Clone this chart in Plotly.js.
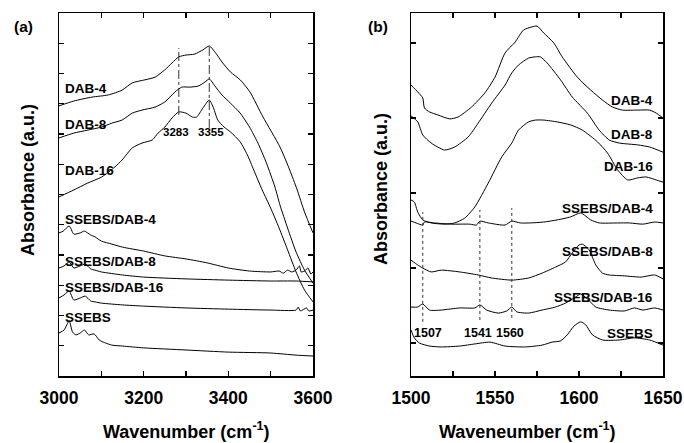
<!DOCTYPE html>
<html><head><meta charset="utf-8">
<script src="https://cdn.plot.ly/plotly-3.0.1.min.js"></script>
<style>html,body{margin:0;padding:0;background:#fff}#chart{width:684px;height:443px}</style>
</head><body><div id="chart"></div>
<script>
// ---------- Panel (a): 3000-3600 cm-1 ----------
const a_dab4_x = [3000,3035,3078,3116,3149,3173,3203,3227,3250,3267,3283,3300,3320,3340,3355,3370,3385,3405,3428,3451,3482,3522,3545,3562,3580,3600];
const a_dab4_y = [8.93,9.09,9.22,9.29,9.45,9.69,9.79,9.88,10.12,10.35,10.55,10.61,10.64,10.78,10.91,10.68,10.38,10.05,9.79,9.39,8.56,7.57,6.81,6.18,5.42,4.73];
const a_dab8_x = [3000,3035,3068,3101,3125,3149,3173,3196,3227,3250,3274,3290,3310,3330,3345,3355,3368,3385,3405,3428,3450,3470,3490,3510,3522,3540,3560,3580,3600];
const a_dab8_y = [7.87,8.03,8.13,8.23,8.36,8.46,8.69,8.79,8.89,9.06,9.39,9.55,9.55,9.59,9.72,9.82,9.59,9.29,9.02,8.69,8.23,7.70,7.04,6.25,5.65,4.89,4.10,3.50,3.07];
const a_dab16_x = [3000,3035,3068,3101,3132,3149,3173,3196,3220,3234,3250,3267,3283,3300,3315,3325,3340,3355,3365,3375,3390,3405,3428,3445,3460,3480,3500,3520,3540,3560,3580,3600];
const a_dab16_y = [5.92,6.15,6.38,6.58,6.91,7.14,7.54,7.70,7.80,8.03,8.23,8.53,8.73,8.69,8.56,8.56,8.86,9.12,8.86,8.46,8.23,8.07,7.74,7.31,6.81,6.15,5.55,4.89,4.17,3.44,2.84,2.45];
const a_s4_x = [3000,3010,3024,3035,3050,3060,3075,3085,3100,3125,3150,3200,3250,3300,3350,3400,3450,3500,3520,3530,3540,3550,3560,3568,3572,3580,3588,3595,3600];
const a_s4_y = [4.73,4.79,4.96,4.69,4.73,4.79,4.66,4.60,4.46,4.36,4.26,4.13,3.97,3.87,3.74,3.57,3.47,3.44,3.47,3.40,3.50,3.44,3.50,3.64,3.44,3.47,3.57,3.37,3.44];
const a_s8_x = [3000,3012,3024,3035,3050,3062,3075,3085,3100,3150,3200,3300,3400,3500,3560,3600];
const a_s8_y = [3.57,3.64,3.77,3.57,3.64,3.70,3.54,3.50,3.44,3.34,3.27,3.21,3.17,3.14,3.14,3.11];
const a_s16_x = [3000,3012,3024,3035,3050,3062,3075,3085,3100,3150,3200,3300,3400,3500,3560,3565,3570,3585,3590,3600];
const a_s16_y = [2.58,2.68,2.81,2.51,2.58,2.64,2.48,2.45,2.41,2.35,2.31,2.25,2.21,2.18,2.18,2.28,2.15,2.25,2.15,2.18];
const a_ssebs_x = [3000,3012,3024,3032,3040,3050,3060,3070,3083,3095,3110,3125,3150,3200,3300,3400,3500,3560,3600];
const a_ssebs_y = [1.42,1.52,1.82,1.45,1.36,1.42,1.52,1.36,1.39,1.19,1.09,1.02,0.99,0.93,0.86,0.79,0.76,0.69,0.66];

// ---------- Panel (b): 1500-1650 cm-1 ----------
const b_dab4_x = [1500,1504,1507,1508,1511,1516,1523,1528,1536,1544,1550,1556,1562,1567,1572,1575,1579,1585,1590,1599,1607,1614,1620,1626,1635,1642,1646,1650];
const b_dab4_y = [9.62,9.39,9.19,8.86,8.73,8.63,8.50,8.56,8.89,9.36,9.88,10.68,11.04,11.44,11.54,11.57,11.34,11.01,10.55,9.88,9.45,9.12,8.89,8.79,8.79,8.79,8.69,8.53];
const b_dab8_x = [1500,1504,1507,1512,1520,1526,1534,1540,1548,1556,1560,1564,1570,1574,1577,1581,1589,1596,1605,1612,1618,1624,1635,1642,1650];
const b_dab8_y = [8.60,8.40,7.97,7.70,7.47,7.57,7.90,8.36,9.02,9.62,10.02,10.28,10.51,10.55,10.55,10.35,9.79,9.22,8.69,8.13,7.80,7.70,7.64,7.57,7.40];
const b_dab16_x = [1500,1502,1504,1507,1512,1520,1526,1532,1538,1546,1554,1560,1564,1570,1574,1579,1587,1595,1602,1611,1617,1623,1629,1635,1640,1646,1650];
const b_dab16_y = [5.82,5.75,5.42,5.16,5.06,5.02,5.06,5.22,5.59,6.38,7.24,7.70,8.13,8.40,8.46,8.46,8.40,8.30,8.13,7.74,7.37,6.81,6.48,6.55,6.58,6.48,6.41];
const b_s4_x = [1500,1503,1507,1508,1514,1524,1535,1539,1541,1546,1556,1560,1565,1571,1579,1587,1595,1601,1607,1612,1623,1630,1638,1645,1650];
const b_s4_y = [5.12,5.06,4.99,5.09,5.06,5.02,5.02,4.99,5.12,5.06,4.99,5.12,5.06,5.06,5.09,5.16,5.26,5.39,5.16,5.06,5.06,5.06,5.02,5.09,5.06];
const b_s8_x = [1500,1504,1507,1512,1518,1529,1540,1548,1560,1570,1578,1586,1592,1596,1600,1602,1606,1610,1614,1618,1627,1637,1645,1650];
const b_s8_y = [3.83,3.67,3.57,3.44,3.50,3.44,3.34,3.24,3.17,3.24,3.40,3.60,3.77,4.07,4.33,4.36,4.17,3.67,3.40,3.34,3.31,3.27,3.34,3.21];
const b_s16_x = [1500,1504,1507,1511,1518,1529,1538,1541,1545,1552,1557,1560,1563,1570,1578,1586,1592,1598,1601,1605,1610,1618,1627,1633,1638,1645,1650];
const b_s16_y = [2.28,2.28,2.38,2.18,2.18,2.25,2.25,2.35,2.18,2.08,2.15,2.28,2.12,2.08,2.18,2.28,2.41,2.61,2.71,2.55,2.28,2.18,2.15,2.25,2.18,2.25,2.18];
const b_ssebs_x = [1500,1502,1505,1511,1518,1529,1538,1547,1556,1568,1578,1584,1589,1593,1597,1601,1604,1608,1614,1624,1633,1642,1650];
const b_ssebs_y = [1.52,1.26,1.09,0.99,0.96,0.99,1.06,1.12,0.99,0.96,1.02,1.12,1.16,1.36,1.65,1.79,1.69,1.36,1.19,1.19,1.26,1.19,1.02];

// labels & ticks
const seriesNames = ['DAB-4','DAB-8','DAB-16','SSEBS/DAB-4','SSEBS/DAB-8','SSEBS/DAB-16','SSEBS'];
const peaksA = [3283, 3355];
const peaksB = [1507, 1541, 1560];
const ticksA = [3000,3100,3200,3300,3400,3500,3600];
const tickTextA = ['3000','','3200','','3400','','3600'];
const ticksB = [1500,1525,1550,1575,1600,1625,1650];
const tickTextB = ['1500','','1550','','1600','','1650'];

const FONT = 'Liberation Sans, Arial, sans-serif';
const seriesA = [[a_dab4_x,a_dab4_y],[a_dab8_x,a_dab8_y],[a_dab16_x,a_dab16_y],[a_s4_x,a_s4_y],[a_s8_x,a_s8_y],[a_s16_x,a_s16_y],[a_ssebs_x,a_ssebs_y]];
const seriesB = [[b_dab4_x,b_dab4_y],[b_dab8_x,b_dab8_y],[b_dab16_x,b_dab16_y],[b_s4_x,b_s4_y],[b_s8_x,b_s8_y],[b_s16_x,b_s16_y],[b_ssebs_x,b_ssebs_y]];
const line = {color:'#000', width:1, shape:'spline', smoothing:0.6};
const traces = [];
seriesA.forEach((s,i)=>traces.push({x:s[0],y:s[1],name:seriesNames[i],mode:'lines',line:line,xaxis:'x',yaxis:'y',showlegend:false,hoverinfo:'skip'}));
seriesB.forEach((s,i)=>traces.push({x:s[0],y:s[1],name:seriesNames[i],mode:'lines',line:line,xaxis:'x2',yaxis:'y2',showlegend:false,hoverinfo:'skip'}));

// label placement (layout only)
const labelYA = [9.52,8.30,6.81,5.16,3.80,2.91,1.92];
const labelYB = [9.12,7.97,6.91,5.55,4.10,2.61,1.42];
const ann = [];
const lf = {family:FONT,size:13.5,color:'#000',weight:'bold'};
seriesNames.forEach((n,i)=>{
  ann.push({x:3009,y:labelYA[i],xref:'x',yref:'y',text:n,showarrow:false,xanchor:'left',yanchor:'middle',font:lf});
  ann.push({x:1645.5,y:labelYB[i],xref:'x2',yref:'y2',text:n,showarrow:false,xanchor:'right',yanchor:'middle',font:lf});
});
peaksA.forEach((p,i)=>ann.push({x:p+(i===0?-6:4),y:8.05,xref:'x',yref:'y',text:String(p),showarrow:false,xanchor:'center',yanchor:'middle',font:{family:FONT,size:11.5,color:'#000',weight:'bold'}}));
peaksB.forEach((p,i)=>ann.push({x:p+(i===0?3:-1),y:1.42,xref:'x2',yref:'y2',text:String(p),showarrow:false,xanchor:'center',yanchor:'middle',font:{family:FONT,size:12.5,color:'#000',weight:'bold'}}));
const tfont = {family:FONT,size:18,color:'#000',weight:'bold'};
const pa = (x,y,text,font,extra)=>Object.assign({x:x/684,y:1-y/443,xref:'paper',yref:'paper',text:text,showarrow:false,xanchor:'center',yanchor:'middle',font:font},extra||{});
ann.push(pa(23,27,'(a)',{family:FONT,size:15.5,color:'#000',weight:'bold'}));
ann.push(pa(378,27,'(b)',{family:FONT,size:15.5,color:'#000',weight:'bold'}));
ann.push(pa(28,180,'Absorbance (a.u.)',tfont,{textangle:-90}));
ann.push(pa(381,189,'Absorbance (a.u.)',tfont,{textangle:-90}));
ann.push(pa(186,430,'Wavenumber (cm<sup>-1</sup>)',tfont));
ann.push(pa(527,430,'Waveneumber (cm<sup>-1</sup>)',tfont));

const shapes = [];
const vA = [[8.63,10.84],[8.20,10.94]];
peaksA.forEach((p,i)=>shapes.push({type:'line',xref:'x',yref:'y',x0:p,x1:p,y0:vA[i][0],y1:vA[i][1],line:{color:'#333',width:1,dash:'dashdot'}}));
const vB = [[1.79,5.42],[1.85,5.49],[1.92,5.55]];
peaksB.forEach((p,i)=>shapes.push({type:'line',xref:'x2',yref:'y2',x0:p,x1:p,y0:vB[i][0],y1:vB[i][1],line:{color:'#333',width:1,dash:'dot'}}));

const xbase = {showgrid:false,zeroline:false,showline:true,linecolor:'#000',linewidth:1.5,mirror:'ticks',ticks:'inside',ticklen:5,tickwidth:1.2,tickcolor:'#000',tickfont:{family:FONT,size:17.5,color:'#000',weight:'bold'},ticklabelstandoff:5};
const ybase = {showgrid:false,zeroline:false,showline:true,linecolor:'#000',linewidth:1.5,mirror:'ticks',ticks:'inside',ticklen:5,tickwidth:1.2,tickcolor:'#000',showticklabels:false,range:[0,12]};

const layout = {
  width:684,height:443,margin:{l:0,r:0,t:0,b:0},paper_bgcolor:'#fff',plot_bgcolor:'#fff',showlegend:false,
  xaxis:Object.assign({},xbase,{domain:[59/684,313/684],range:[3000,3600],tickmode:'array',tickvals:ticksA,ticktext:tickTextA,anchor:'y'}),
  yaxis:Object.assign({},ybase,{domain:[1-376/443,1-13/443],tickmode:'linear',tick0:0,dtick:1,anchor:'x'}),
  xaxis2:Object.assign({},xbase,{domain:[411/684,663/684],range:[1500,1650],tickmode:'array',tickvals:ticksB,ticktext:tickTextB,anchor:'y2'}),
  yaxis2:Object.assign({},ybase,{domain:[1-376/443,1-13/443],tickmode:'linear',tick0:33/30.25,dtick:75/30.25,anchor:'x2'}),
  annotations:ann,shapes:shapes
};
Plotly.newPlot('chart',traces,layout,{staticPlot:true,displayModeBar:false});
</script></body></html>
